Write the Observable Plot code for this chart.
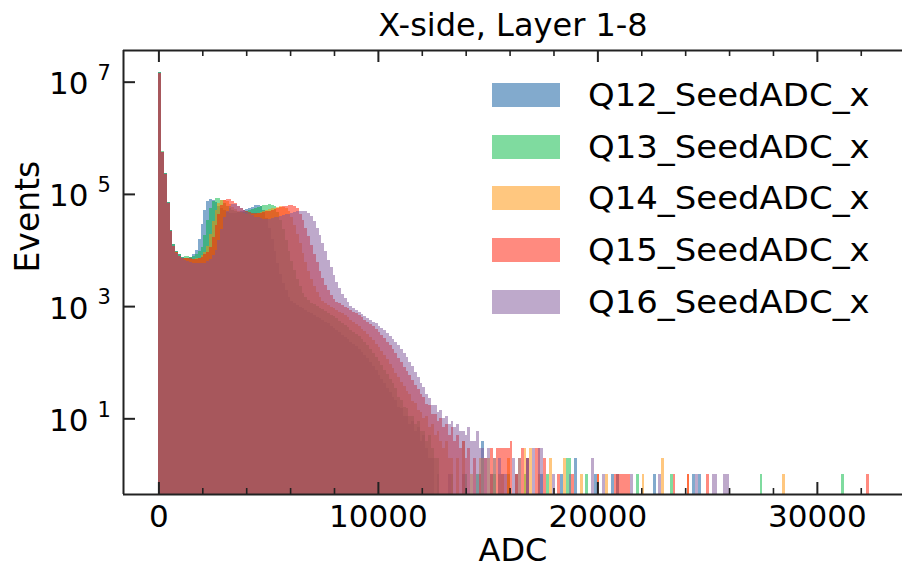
<!DOCTYPE html>
<html>
<head>
<meta charset="utf-8">
<script src="https://cdn.jsdelivr.net/npm/d3@7"></script>
<script src="https://cdn.jsdelivr.net/npm/@observablehq/plot@0.6"></script>
<style>
  html, body { margin: 0; padding: 0; background: #fff; overflow: hidden; }
  #chart { position: relative; width: 902px; height: 573px; }
  #chart svg { position: absolute; left: 0; top: 0; }
  .legend { position: absolute; left: 0; top: 0; font-family: "DejaVu Sans", sans-serif; color: #000; }
  .legend .sw { position: absolute; width: 68px; height: 24px; }
  .legend .lb { position: absolute; font-size: 32px; line-height: 24px; white-space: nowrap;
                transform: scaleX(1.06); transform-origin: 0 50%; }
</style>
</head>
<body>
<div id="chart"></div>
<script>
// Histogram settings: 256 bins of 128 ADC counts each.
const binWidth = 128;
const series = ["Q12_SeedADC_x", "Q13_SeedADC_x", "Q14_SeedADC_x", "Q15_SeedADC_x", "Q16_SeedADC_x"];
const colors = ["#05559b", "#00b73f", "#ff8f00", "#ff1500", "#7d5397"];

// Events per bin, starting from bin 0 (continuous part of each spectrum).
const q12Counts = [
  15100000, 562000, 234000, 70800, 22400, 12600, 9550, 8320, 7590,
  7240, 7330, 7590, 8510, 10200, 15800, 29500, 52500, 74100, 82200,
  79400, 70800, 61700, 55000, 50700, 47900, 46200, 45700, 46200, 47900,
  50100, 52500, 54300, 56900, 59600, 62400, 63100, 60300, 52500, 37200,
  24500, 15500, 9550, 5890, 3800, 2630, 1910, 1480, 1230, 1120,
  1050, 977, 912, 851, 794, 741, 692, 646, 603, 562,
  525, 490, 447, 407, 372, 339, 309, 282, 257, 234,
  214, 195, 174, 155, 135, 117, 100, 85, 72, 60,
  50, 42, 35, 29, 24, 21, 16, 15, 11, 11,
  8, 9, 6, 7, 4, 5, 3, 2, 2
];
const q13Counts = [
  14800000, 575000, 240000, 72400, 22900, 12600, 9550, 8320, 7590,
  7760, 7670, 7590, 7760, 8320, 9440, 11500, 18600, 33900, 55000,
  75000, 86100, 85100, 77600, 69200, 61000, 56200, 52500, 50100, 48400,
  47900, 47900, 49000, 51300, 53300, 55600, 57500, 60300, 63100, 64600,
  66100, 64600, 60300, 47900, 33900, 23400, 15100, 9770, 6460, 4370,
  3090, 2240, 1740, 1450, 1260, 1150, 1070, 1000, 933, 871,
  813, 759, 708, 661, 603, 550, 501, 457, 417, 380,
  347, 316, 288, 257, 229, 200, 174, 148, 126, 107,
  89, 74, 62, 51, 43, 35, 24, 21, 16, 15,
  11, 11, 8, 9, 6, 6, 4, 5, 3, 2,
  2
];
const q14Counts = [
  14500000, 550000, 229000, 69200, 21900, 12000, 9120, 7940, 7240,
  7080, 7080, 7000, 6920, 7080, 7240, 8130, 9330, 12000, 19100,
  33100, 51300, 67600, 77600, 79400, 73500, 66100, 59600, 53700, 50100,
  47300, 45200, 44200, 43700, 43700, 44500, 45700, 47500, 49300, 51300,
  53100, 55000, 57100, 58900, 60300, 59300, 56900, 49800, 38000, 28200,
  19500, 13200, 8910, 6170, 4270, 3090, 2290, 1780, 1450, 1230,
  1120, 1050, 977, 912, 851, 794, 741, 692, 631, 575,
  525, 479, 437, 398, 355, 316, 282, 245, 214, 186,
  158, 135, 112, 93, 78, 65, 54, 45, 37, 31,
  27, 20, 19, 14, 13, 10, 11, 7, 8, 5,
  6, 4, 3, 4, 2, 2
];
const q15Counts = [
  14500000, 562000, 229000, 69200, 21900, 12000, 9120, 7940, 7240,
  7240, 7080, 7080, 7000, 6920, 7080, 7410, 8320, 9330, 11200,
  17400, 28200, 44200, 63100, 77600, 82200, 81300, 75900, 68400, 61700,
  56200, 52500, 50100, 47900, 46600, 45700, 45700, 45900, 47000, 48800,
  50500, 52200, 54000, 55800, 57800, 59800, 61700, 63100, 62400, 60300,
  56900, 44700, 33900, 25100, 17800, 12300, 8510, 6030, 4270, 3160,
  2400, 1910, 1550, 1320, 1200, 1120, 1050, 977, 912, 851,
  794, 741, 692, 631, 575, 525, 479, 437, 389, 347,
  309, 269, 234, 200, 170, 145, 120, 100, 83, 69,
  58, 48, 40, 33, 27, 24, 18, 17, 12, 12,
  9, 10, 7, 8, 5, 7, 4, 5, 3, 4,
  2, 3
];
const q16Counts = [
  14100000, 550000, 229000, 67600, 21400, 11700, 8910, 7760, 7080,
  6610, 6310, 6030, 5890, 5820, 5750, 5820, 5960, 6310, 7000,
  8040, 10000, 15100, 24000, 38000, 50100, 60300, 65000, 66100, 61700,
  56900, 51900, 47100, 43700, 41300, 39400, 38000, 37000, 36300, 36300,
  36300, 37200, 38000, 39400, 40700, 41900, 43300, 44700, 46000, 47500,
  49000, 49800, 49800, 49000, 46600, 39800, 32400, 24500, 18200, 13300,
  9550, 6760, 4900, 3550, 2690, 2090, 1660, 1380, 1190, 1000,
  923, 851, 776, 724, 668, 617, 569, 525, 490, 447,
  407, 372, 331, 295, 257, 229, 200, 174, 148, 123,
  102, 85, 66, 55, 42, 36, 27, 23, 17, 17,
  13, 14, 10, 11, 8, 9, 7, 8, 6, 6,
  5, 7, 4, 4, 6, 3
];

// Sparse high-ADC tail: [bin index, events].
const q12Tail = [[99,1],[103,1],[108,1],[115,4],[118,1],[122,1],[127,1],[131,2],[136,1],[143,1],[148,2],[155,1],[161,1],[163,1],[176,1],[190,1],[192,1]];
const q13Tail = [[104,1],[109,1],[113,1],[119,1],[124,1],[130,1],[138,1],[145,2],[146,2],[152,1],[170,1],[182,1],[214,1],[243,1]];
const q14Tail = [[106,2],[108,4],[111,1],[114,2],[115,2],[117,2],[119,2],[121,1],[124,2],[128,2],[130,3],[132,3],[135,1],[139,2],[144,2],[150,1],[156,1],[159,1],[172,1],[179,2],[188,1],[222,1]];
const q15Tail = [[112,2],[114,1],[116,2],[118,3],[120,3],[121,3],[122,3],[123,3],[124,3],[125,4],[127,1],[129,3],[131,2],[134,3],[135,3],[137,2],[142,1],[147,1],[156,1],[162,1],[163,1],[164,1],[165,1],[166,1],[167,1],[183,1],[188,1],[195,1],[252,1]];
const q16Tail = [[115,3],[116,2],[117,3],[119,2],[121,2],[123,1],[126,2],[128,2],[131,2],[133,3],[135,3],[136,3],[140,1],[146,1],[154,2],[158,1],[168,1],[178,1],[191,1],[197,1],[198,1],[201,1],[202,1]];

// Axis ticks.
const xMajor = [0, 10000, 20000, 30000];
const xMinor = [2000, 4000, 6000, 8000, 12000, 14000, 16000, 18000, 22000, 24000, 26000, 28000, 32000];
const yMajor = [1e1, 1e3, 1e5, 1e7];

const xDomain = [-1613, 33879];
const yDomain = [0.448, 3.67e7];

const countsList = [q12Counts, q13Counts, q14Counts, q15Counts, q16Counts];
const tailList = [q12Tail, q13Tail, q14Tail, q15Tail, q16Tail];

function binsFor(k) {
  const rows = [];
  countsList[k].forEach((c, i) => {
    if (c > 0) rows.push({x1: i * binWidth, x2: (i + 1) * binWidth, base: yDomain[0], count: c});
  });
  tailList[k].forEach(([i, c]) => {
    rows.push({x1: i * binWidth, x2: (i + 1) * binWidth, base: yDomain[0], count: c});
  });
  return rows;
}

const W = 902, H = 573, mt = 50, mb = 79, ml = 123, mr = 0;
const fw = W - ml - mr, fh = H - mt - mb;
const ink = "#222";

const barMarks = series.map((s, k) =>
  Plot.rectY(binsFor(k), {
    x1: "x1", x2: "x2", y1: "base", y2: "count",
    fill: colors[k], fillOpacity: 0.5, shapeRendering: "crispEdges"
  })
);

const chart = Plot.plot({
  width: W, height: H,
  marginTop: mt, marginBottom: mb, marginLeft: ml, marginRight: mr,
  style: {fontFamily: "DejaVu Sans, sans-serif", background: "#fff", color: "#000"},
  x: {domain: xDomain, axis: null},
  y: {type: "log", domain: yDomain, axis: null},
  marks: [
    ...barMarks,
    // frame: left, top, bottom
    Plot.ruleX([xDomain[0]], {stroke: ink, strokeWidth: 2}),
    Plot.ruleY([yDomain[0]], {stroke: ink, strokeWidth: 2}),
    Plot.ruleY([yDomain[1]], {stroke: ink, strokeWidth: 2}),
    // inward ticks
    Plot.tickX(xMajor, {x: d => d, insetTop: fh - 12, stroke: ink, strokeWidth: 2}),
    Plot.tickX(xMajor, {x: d => d, insetBottom: fh - 12, stroke: ink, strokeWidth: 2}),
    Plot.tickX(xMinor, {x: d => d, insetTop: fh - 6, stroke: ink, strokeWidth: 1.6}),
    Plot.tickX(xMinor, {x: d => d, insetBottom: fh - 6, stroke: ink, strokeWidth: 1.6}),
    Plot.tickY(yMajor, {y: d => d, insetRight: fw - 12, stroke: ink, strokeWidth: 2}),
    // tick labels
    Plot.text(xMajor, {x: d => d, frameAnchor: "bottom", dy: 23, lineAnchor: "middle", text: d => String(d), fontSize: 31, fill: "#000", ariaLabel: "wide"}),
    Plot.text(yMajor, {y: d => d, frameAnchor: "left", dx: -35, dy: 2, textAnchor: "end", lineAnchor: "middle", text: () => "10", fontSize: 31, fill: "#000"}),
    Plot.text(yMajor, {y: d => d, frameAnchor: "left", dx: -26, dy: -9, textAnchor: "start", lineAnchor: "middle", text: d => String(Math.round(Math.log10(d))), fontSize: 21, fill: "#000"}),
    // axis labels and title
    Plot.text(["ADC"], {frameAnchor: "bottom", dy: 56, lineAnchor: "middle", text: d => d, fontSize: 32, fill: "#000", ariaLabel: "wide"}),
    Plot.text(["Events"], {frameAnchor: "left", dx: -95, rotate: -90, lineAnchor: "middle", text: d => d, fontSize: 33, fill: "#000"}),
    Plot.text(["X-side, Layer 1-8"], {frameAnchor: "top", dy: -25, lineAnchor: "middle", text: d => d, fontSize: 32, fill: "#000", ariaLabel: "wide"})
  ]
});

const root = document.getElementById("chart");
root.appendChild(chart);

// Horizontal labels are drawn slightly wide.
chart.querySelectorAll('g[aria-label="wide"] text').forEach(t => {
  const len = t.getComputedTextLength();
  t.setAttribute("textLength", (len * 1.06).toFixed(1));
  t.setAttribute("lengthAdjust", "spacingAndGlyphs");
});

// Legend
const legend = document.createElement("div");
legend.className = "legend";
series.forEach((s, k) => {
  const top = 83 + k * 51.7;
  const sw = document.createElement("div");
  sw.className = "sw";
  sw.style.left = "492px";
  sw.style.top = top + "px";
  sw.style.background = colors[k];
  sw.style.opacity = 0.5;
  const lb = document.createElement("div");
  lb.className = "lb";
  lb.style.left = "588px";
  lb.style.top = top + "px";
  lb.textContent = s;
  legend.appendChild(sw);
  legend.appendChild(lb);
});
root.appendChild(legend);
</script>
</body>
</html>
